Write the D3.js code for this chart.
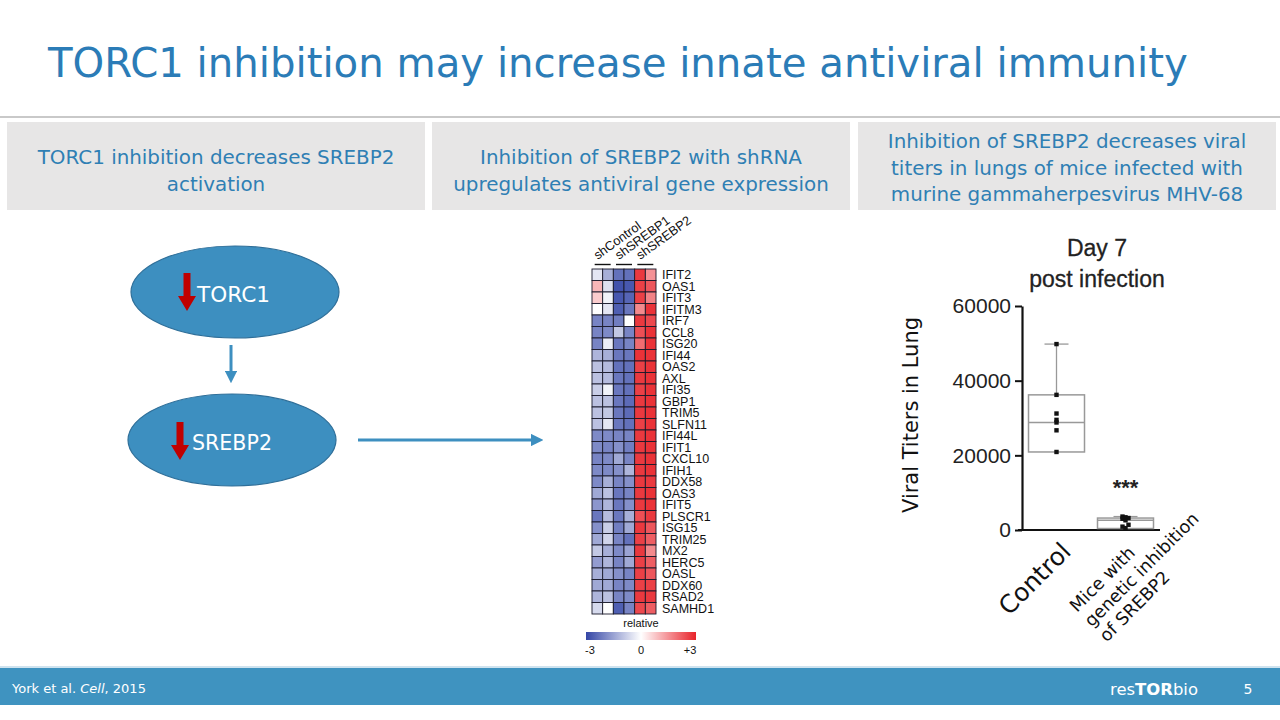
<!DOCTYPE html>
<html><head><meta charset="utf-8">
<script src="https://cdn.jsdelivr.net/npm/d3@7"></script>
<style>html,body{margin:0;padding:0;background:#fff;}svg{display:block;}</style>
</head><body>
<svg id="chart" width="1280" height="720"></svg>
<script>
// ---------------- DATA ----------------
const slideTitle = "TORC1 inhibition may increase innate antiviral immunity";
const panelHeadings = [
  ["TORC1 inhibition decreases SREBP2", "activation"],
  ["Inhibition of SREBP2 with shRNA", "upregulates antiviral gene expression"],
  ["Inhibition of SREBP2 decreases viral", "titers in lungs of mice infected with", "murine gammaherpesvirus MHV-68"]
];
const pathwayNodes = ["TORC1", "SREBP2"];

const heatGroups = ["shControl", "shSREBP1", "shSREBP2"];
const genes = ["IFIT2","OAS1","IFIT3","IFITM3","IRF7","CCL8","ISG20","IFI44","OAS2","AXL",
  "IFI35","GBP1","TRIM5","SLFN11","IFI44L","IFIT1","CXCL10","IFIH1","DDX58","OAS3",
  "IFIT5","PLSCR1","ISG15","TRIM25","MX2","HERC5","OASL","DDX60","RSAD2","SAMHD1"];
// relative expression (-3..+3), 6 samples per gene: shControl x2, shSREBP1 x2, shSREBP2 x2
const heatValues = [
  [-0.4,-1.3,-2.3,-2.3, 2.7, 1.5],
  [ 1.0,-0.5,-2.8,-2.7, 2.6, 2.3],
  [ 0.7,-0.2,-2.7,-2.5, 2.6, 1.7],
  [ 0.0,-0.4,-2.6,-2.2, 1.6, 2.8],
  [-2.0,-2.0,-2.1, 0.0, 2.7, 2.5],
  [-2.0,-1.9,-0.9,-2.0, 2.4, 2.8],
  [-2.0,-0.3,-2.2,-2.0, 2.0, 2.8],
  [-1.2,-1.3,-2.2,-2.2, 2.8, 2.8],
  [-1.0,-1.1,-2.3,-2.3, 2.6, 2.8],
  [-1.0,-1.1,-2.2,-2.3, 2.7, 2.8],
  [-0.8,-0.2,-2.2,-2.3, 2.6, 2.8],
  [-1.0,-1.0,-2.2,-2.4, 2.7, 2.8],
  [-1.0,-0.9,-2.2,-2.4, 2.7, 2.8],
  [-1.0,-0.4,-2.2,-2.3, 2.6, 2.8],
  [-1.9,-1.9,-2.0,-2.0, 2.7, 2.8],
  [-1.9,-2.0,-1.8,-2.1, 2.7, 2.8],
  [-2.0,-1.9,-1.4,-2.0, 2.7, 2.8],
  [-1.9,-1.9,-1.8,-1.2, 2.7, 2.8],
  [-1.9,-1.3,-2.0,-1.8, 2.7, 2.7],
  [-1.4,-1.0,-2.2,-2.0, 2.7, 2.8],
  [-1.7,-1.2,-2.2,-1.8, 2.7, 2.8],
  [-2.2,-1.1,-2.2,-1.3, 2.4, 2.7],
  [-1.8,-0.8,-2.1,-1.4, 2.7, 2.3],
  [-1.4,-0.7,-2.0,-2.3, 2.6, 2.2],
  [-0.9,-1.3,-1.9,-1.5, 2.7, 1.6],
  [-1.6,-1.2,-2.0,-1.4, 2.6, 2.2],
  [-1.3,-1.4,-1.8,-2.0, 2.6, 2.3],
  [-1.4,-1.4,-2.0,-1.9, 2.6, 2.6],
  [-1.2,-1.0,-2.0,-1.9, 2.7, 2.7],
  [-0.6, 0.0,-2.6,-2.0, 2.5, 2.2]
];
const legendTicks = ["-3", "0", "+3"];
const legendTickValues = [-3, 0, 3];

const boxGroups = ["Control", "SREBP2i"];
const boxGroupLabels = [["Control"], ["Mice with", "genetic inhibition", "of SREBP2"]];
const controlPoints = [49800, 36200, 31200, 29500, 28800, 26700, 20900];
const srebp2Points = [3600, 3400, 3200, 3000, 2600, 1400, 900, 500];
const boxMin    = [20900, 400];
const boxQ1     = [20900, 400];
const boxMedian = [28800, 2600];
const boxQ3     = [36200, 3200];
const boxMax    = [49800, 3600];
const yTicks = [0, 20000, 40000, 60000];
const plotTitle = ["Day 7", "post infection"];
const yAxisLabel = "Viral Titers in Lung";
const sigLabel = "***";

// ---------------- DRAW ----------------
const svg = d3.select("#chart");
const GOTHIC = "'DejaVu Sans', 'Noto Sans', sans-serif";
const ARIAL = "'Liberation Sans', Arial, sans-serif";
const BLUE_TXT = "#2f7fb4";

function fit(sel, w) {
  const n = sel.node();
  const fs = parseFloat(sel.attr("font-size"));
  const len = n.getComputedTextLength();
  sel.attr("font-size", (fs * w / len).toFixed(2));
  return fs * w / len;
}

// title
const t = svg.append("text").attr("x", 48).attr("y", 77)
  .attr("font-family", GOTHIC).attr("font-size", 40).attr("fill", "#2b7cb7")
  .text(slideTitle);
fit(t, 1140);
svg.append("line").attr("x1", 0).attr("x2", 1280).attr("y1", 117).attr("y2", 117)
  .attr("stroke", "#c9c9c9").attr("stroke-width", 2);

// panel headings
const boxX = [7, 432, 858], boxW = [418, 418, 418];
const gHead = svg.append("g");
let headFs = null;
panelHeadings.forEach((lines, i) => {
  gHead.append("rect").attr("x", boxX[i]).attr("y", 122).attr("width", boxW[i]).attr("height", 88)
    .attr("fill", "#e7e6e6");
});
{
  const probe = gHead.append("text").attr("font-family", GOTHIC).attr("font-size", 20).text(panelHeadings[0][0]);
  headFs = fit(probe, 357);
  probe.remove();
}
panelHeadings.forEach((lines, i) => {
  const cx = boxX[i] + boxW[i] / 2;
  const y0 = lines.length === 2 ? 164 : 148;
  lines.forEach((ln, j) => {
    gHead.append("text").attr("x", cx).attr("y", y0 + j * 26.5)
      .attr("text-anchor", "middle").attr("font-family", GOTHIC)
      .attr("font-size", headFs).attr("fill", BLUE_TXT).text(ln);
  });
});

// pathway diagram
const gPath = svg.append("g");
const nodeY = [292, 440];
const nodeX = [235, 232];
pathwayNodes.forEach((name, i) => {
  gPath.append("ellipse").attr("cx", nodeX[i]).attr("cy", nodeY[i]).attr("rx", 104).attr("ry", 46)
    .attr("fill", "#3d8fc0").attr("stroke", "#2f6f99").attr("stroke-width", 1.2);
});
const defs = svg.append("defs");
defs.append("marker").attr("id", "bh").attr("viewBox", "0 0 10 10").attr("refX", 5).attr("refY", 5)
  .attr("markerWidth", 4.2).attr("markerHeight", 4.2).attr("orient", "auto")
  .append("path").attr("d", "M0,0 L10,5 L0,10 z").attr("fill", "#3d8fc0");
gPath.append("line").attr("x1", 231).attr("y1", 345).attr("x2", 231).attr("y2", 377)
  .attr("stroke", "#3d8fc0").attr("stroke-width", 3).attr("marker-end", "url(#bh)");
gPath.append("line").attr("x1", 358).attr("y1", 440).attr("x2", 537).attr("y2", 440)
  .attr("stroke", "#3d8fc0").attr("stroke-width", 3).attr("marker-end", "url(#bh)");

function redArrow(cx, top, tip) {
  const sw = 3.5, hw = 9, hh = 15;
  const p = d3.path();
  p.moveTo(cx - sw, top); p.lineTo(cx + sw, top); p.lineTo(cx + sw, tip - hh);
  p.lineTo(cx + hw, tip - hh); p.lineTo(cx, tip); p.lineTo(cx - hw, tip - hh);
  p.lineTo(cx - sw, tip - hh); p.closePath();
  gPath.append("path").attr("d", p.toString()).attr("fill", "#c00000");
}
redArrow(187, 273, 311);
redArrow(180, 422, 460);
const nodeTxtX = [197, 192], nodeTxtW = [73, 80];
pathwayNodes.forEach((name, i) => {
  const tx = gPath.append("text").attr("x", nodeTxtX[i]).attr("y", nodeY[i] + 10)
    .attr("font-family", GOTHIC).attr("font-size", 26).attr("fill", "#fff").text(name);
  fit(tx, nodeTxtW[i]);
});

// heatmap
const gHeat = svg.append("g");
const nCols = heatValues[0].length;
const hx = d3.scaleBand().domain(d3.range(nCols)).range([592, 656]);
const hy = d3.scaleBand().domain(genes).range([269, 614]);
const hcolor = d3.scaleLinear().domain([-3, 0, 3]).range(["#3446a6", "#ffffff", "#e8232a"]);
genes.forEach((g, r) => {
  heatValues[r].forEach((v, c) => {
    gHeat.append("rect").attr("x", hx(c)).attr("y", hy(g))
      .attr("width", hx.bandwidth()).attr("height", hy.bandwidth())
      .attr("fill", hcolor(v)).attr("stroke", "#1a1a2a").attr("stroke-width", 0.9);
  });
  gHeat.append("text").attr("x", 662).attr("y", hy(g) + hy.bandwidth() / 2 + 4.5)
    .attr("font-family", ARIAL).attr("font-size", 12.5).attr("fill", "#111").text(g);
});
heatGroups.forEach((name, i) => {
  const x0 = hx(i * 2), x1 = hx(i * 2 + 1) + hx.bandwidth();
  const cx = (x0 + x1) / 2;
  gHeat.append("line").attr("x1", cx - 8).attr("x2", cx + 8).attr("y1", 264.5).attr("y2", 264.5)
    .attr("stroke", "#111").attr("stroke-width", 1.4);
  gHeat.append("text").attr("transform", `translate(${cx - 5},260) rotate(-36)`)
    .attr("font-family", ARIAL).attr("font-size", 12.8).attr("fill", "#111").text(name);
});
// legend
const grad = defs.append("linearGradient").attr("id", "lg").attr("x1", "0%").attr("x2", "100%");
[-3, -1.5, 0, 1.5, 3].forEach(v => {
  grad.append("stop").attr("offset", ((v + 3) / 6 * 100) + "%").attr("stop-color", hcolor(v));
});
const lx = d3.scaleLinear().domain([-3, 3]).range([586, 696]);
gHeat.append("rect").attr("x", lx(-3)).attr("y", 632).attr("width", lx(3) - lx(-3)).attr("height", 8)
  .attr("fill", "url(#lg)");
gHeat.append("text").attr("x", lx(0)).attr("y", 627).attr("text-anchor", "middle")
  .attr("font-family", ARIAL).attr("font-size", 11).attr("fill", "#111").text("relative");
legendTicks.forEach((s, i) => {
  gHeat.append("text").attr("x", lx(legendTickValues[i]) + (i === 0 ? 4 : i === 2 ? -6 : 0)).attr("y", 654)
    .attr("text-anchor", "middle").attr("font-family", ARIAL).attr("font-size", 11).attr("fill", "#111").text(s);
});

// box plot
const gBox = svg.append("g");
const by = d3.scaleLinear().domain([0, 60000]).range([530, 306]);
const bx = d3.scalePoint().domain(boxGroups).range([1022, 1160]).padding(0.5);
const yAxis = d3.axisLeft(by).tickValues(yTicks).tickSize(7).tickSizeOuter(0).tickFormat(d3.format("d"));
const ya = gBox.append("g").attr("transform", "translate(1022,0)").call(yAxis);
ya.select(".domain").attr("stroke", "#111").attr("stroke-width", 2.2);
ya.selectAll(".tick line").attr("stroke", "#111").attr("stroke-width", 2);
ya.selectAll(".tick text").attr("font-family", ARIAL).attr("font-size", 21).attr("fill", "#222").attr("x", -11);
gBox.append("line").attr("x1", 1018).attr("x2", 1160).attr("y1", by(0)).attr("y2", by(0))
  .attr("stroke", "#111").attr("stroke-width", 2.2);
const boxHalf = 28;
const pointSets = [controlPoints, srebp2Points];
boxGroups.forEach((g, i) => {
  const cx = bx(g);
  gBox.append("line").attr("x1", cx).attr("x2", cx).attr("y1", by(boxMax[i])).attr("y2", by(boxMin[i]))
    .attr("stroke", "#999").attr("stroke-width", 1.3);
  gBox.append("line").attr("x1", cx - 12).attr("x2", cx + 12).attr("y1", by(boxMax[i])).attr("y2", by(boxMax[i]))
    .attr("stroke", "#999").attr("stroke-width", 1.3);
  gBox.append("rect").attr("x", cx - boxHalf).attr("y", by(boxQ3[i])).attr("width", boxHalf * 2)
    .attr("height", by(boxQ1[i]) - by(boxQ3[i])).attr("fill", "#fff").attr("stroke", "#999").attr("stroke-width", 1.5);
  gBox.append("line").attr("x1", cx - boxHalf).attr("x2", cx + boxHalf).attr("y1", by(boxMedian[i])).attr("y2", by(boxMedian[i]))
    .attr("stroke", "#999").attr("stroke-width", 1.5);
  pointSets[i].forEach((v, k) => {
    const jx = i === 1 ? ((k % 3) - 1) * 3 : 0;
    gBox.append("rect").attr("x", cx + jx - 2.2).attr("y", by(v) - 2.2).attr("width", 4.4).attr("height", 4.4).attr("fill", "#111");
  });
});
gBox.append("text").attr("x", bx(boxGroups[1])).attr("y", 495).attr("text-anchor", "middle")
  .attr("font-family", ARIAL).attr("font-size", 22).attr("font-weight", "bold").attr("fill", "#222").text(sigLabel);
plotTitle.forEach((s, i) => {
  gBox.append("text").attr("x", 1097).attr("y", 256 + i * 31).attr("text-anchor", "middle")
    .attr("font-family", ARIAL).attr("font-size", 23).attr("fill", "#222").attr("stroke", "#222").attr("stroke-width", 0.3).text(s);
});
const yl = gBox.append("text").attr("transform", "translate(918,415) rotate(-90)").attr("text-anchor", "middle")
  .attr("font-family", GOTHIC).attr("font-size", 22).attr("fill", "#111").text(yAxisLabel);
fit(yl, 196);
// x labels
const cl = gBox.append("text").attr("transform", `translate(${bx(boxGroups[0]) + 16},${553}) rotate(-45)`)
  .attr("text-anchor", "end").attr("font-family", GOTHIC).attr("font-size", 24).attr("fill", "#111")
  .text(boxGroupLabels[0][0]);
fit(cl, 90);
const ml = gBox.append("text").attr("transform", "translate(1077,613) rotate(-45)")
  .attr("font-family", GOTHIC).attr("font-size", 17).attr("fill", "#111");
boxGroupLabels[1].forEach((s, j) => {
  ml.append("tspan").attr("x", 0).attr("dy", j === 0 ? 0 : 21).text(s);
});
{
  const spans = ml.selectAll("tspan").nodes();
  const w = spans[1].getComputedTextLength();
  ml.attr("font-size", 17 * 153 / w);
}

// footer
svg.append("rect").attr("x", 0).attr("y", 666).attr("width", 1280).attr("height", 2).attr("fill", "#cfe3ef");
svg.append("rect").attr("x", 0).attr("y", 668).attr("width", 1280).attr("height", 37).attr("fill", "#3f93c0");
const ft = svg.append("text").attr("x", 12).attr("y", 693).attr("font-family", GOTHIC).attr("font-size", 13).attr("fill", "#fff");
ft.append("tspan").text("York et al. ");
ft.append("tspan").attr("font-style", "italic").text("Cell");
ft.append("tspan").text(", 2015");
const logo = svg.append("text").attr("x", 1110).attr("y", 695).attr("font-family", GOTHIC).attr("font-size", 20).attr("fill", "#fff");
logo.append("tspan").text("res");
logo.append("tspan").attr("font-weight", "bold").text("TOR");
logo.append("tspan").text("bio");
fit(logo, 88);
svg.append("text").attr("x", 1248).attr("y", 694).attr("text-anchor", "middle").attr("font-family", GOTHIC)
  .attr("font-size", 14).attr("fill", "#fff").text("5");
</script>
</body></html>
